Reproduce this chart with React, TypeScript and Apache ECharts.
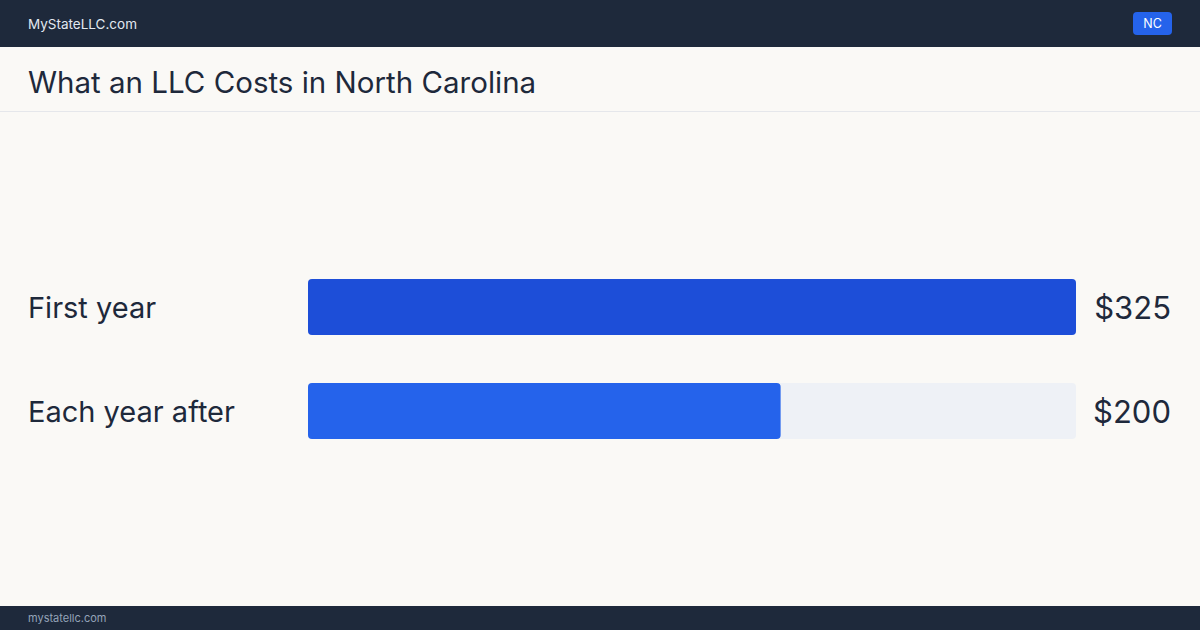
import React, { useEffect, useRef } from "react";
import * as echarts from "echarts";

const categories = ["First year", "Each year after"];
const values = [325, 200];
const maxValue = 325;
const barColors = ["#1d4ed8", "#2563eb"];
const siteName = "MyStateLLC.com";
const footerText = "mystatellc.com";
const stateCode = "NC";
const title = "What an LLC Costs in North Carolina";

const FONT = "Inter, 'Noto Sans', sans-serif";

export default function App() {
  const ref = useRef<HTMLDivElement>(null);
  useEffect(() => {
    document.body.style.margin = "0";
    const chart = echarts.init(ref.current!, undefined, { renderer: "svg" });
    chart.setOption({
      animation: false,
      backgroundColor: "#faf9f6",
      textStyle: { fontFamily: FONT },
      graphic: [
        { type: "rect", shape: { x: 0, y: 0, width: 1200, height: 47 }, style: { fill: "#1e293b" } },
        { type: "text", x: 28, y: 23.5, style: { text: siteName, fill: "#e2e8f0", font: `13.5px ${FONT}`, textVerticalAlign: "middle" } },
        { type: "rect", shape: { x: 1133, y: 12, width: 39, height: 23, r: 4 }, style: { fill: "#2563eb" } },
        { type: "text", x: 1152.5, y: 23.5, style: { text: stateCode, fill: "#ffffff", font: `12.5px ${FONT}`, textAlign: "center", textVerticalAlign: "middle" } },
        { type: "text", x: 28, y: 81.5, style: { text: title, fill: "#1e293b", font: `29.5px ${FONT}`, textVerticalAlign: "middle" } },
        { type: "rect", shape: { x: 0, y: 111, width: 1200, height: 1 }, style: { fill: "#e5e7eb" } },
        { type: "rect", shape: { x: 0, y: 606, width: 1200, height: 24 }, style: { fill: "#1e293b" } },
        { type: "text", x: 28, y: 618, style: { text: footerText, fill: "#94a3b8", font: `11px ${FONT}`, textVerticalAlign: "middle" } },
      ],
      grid: { left: 308, right: 124, top: 255, bottom: 167, containLabel: false },
      xAxis: { type: "value", min: 0, max: maxValue, show: false },
      yAxis: [
        {
          type: "category",
          data: categories,
          inverse: true,
          axisLine: { show: false },
          axisTick: { show: false },
          axisLabel: { align: "left", margin: 280, fontSize: 29, color: "#1e293b", fontFamily: FONT },
        },
        {
          type: "category",
          data: categories,
          inverse: true,
          position: "right",
          axisLine: { show: false },
          axisTick: { show: false },
          axisLabel: {
            align: "right",
            margin: 95,
            fontSize: 31,
            color: "#1e293b",
            fontFamily: FONT,
            formatter: (_v: string, i: number) => "$" + values[i],
          },
        },
      ],
      series: [
        {
          type: "bar",
          yAxisIndex: 0,
          data: values.map((v, i) => ({ value: v, itemStyle: { color: barColors[i] } })),
          barWidth: 56,
          itemStyle: { borderRadius: 4 },
          showBackground: true,
          backgroundStyle: { color: "#eef1f6", borderRadius: 4 },
        },
      ],
    });
    return () => chart.dispose();
  }, []);
  return <div ref={ref} style={{ width: 1200, height: 630, position: "absolute", left: 0, top: 0 }} />;
}
